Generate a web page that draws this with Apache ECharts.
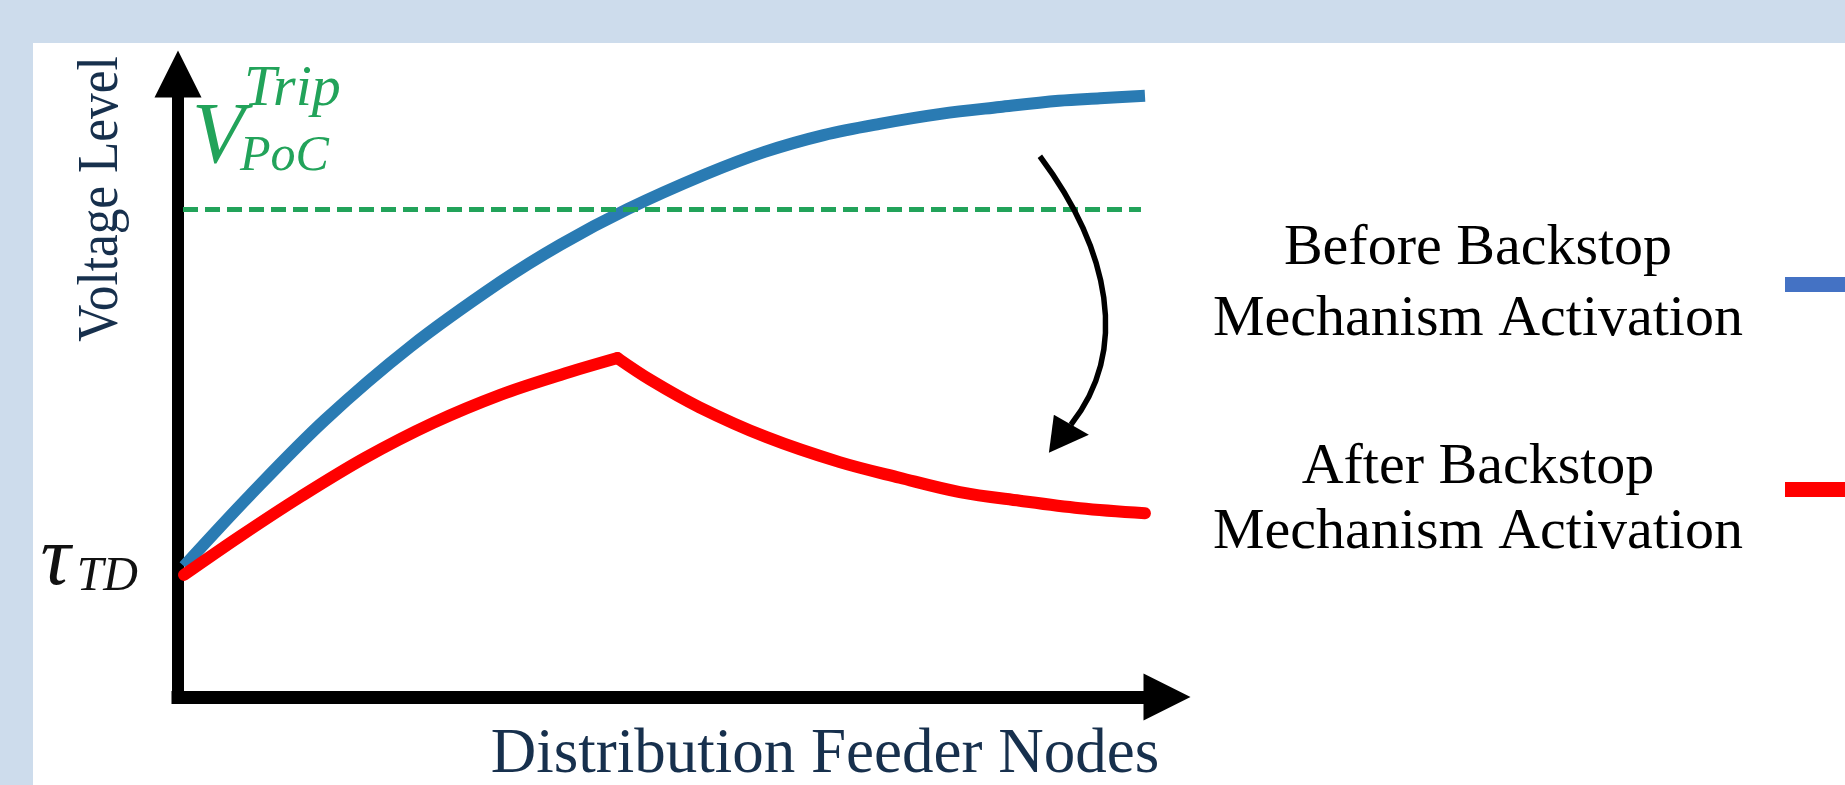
<!DOCTYPE html>
<html>
<head>
<meta charset="utf-8">
<style>
html,body{margin:0;padding:0;background:#cddcec;}
#c{width:1845px;height:785px;}
</style>
<script src="https://cdn.jsdelivr.net/npm/echarts@6/dist/echarts.min.js"></script>
</head>
<body>
<div id="c"></div>
<script>
// ---- data (x: position along feeder, y: voltage level 0-100) ----
const legendLines = [['Before Backstop', 'Mechanism Activation'], ['After Backstop', 'Mechanism Activation']];
const seriesNames = legendLines.map(l => l.join(' '));
const beforeX = [0.6, 7.2, 14.7, 23.2, 32.2, 38.2, 44.9, 52.7, 58.6, 64.5, 70.1, 76.2, 82.1, 88.0, 92.1, 96.6];
const beforeY = [21.0, 32.4, 44.5, 56.2, 66.6, 72.6, 78.3, 83.9, 87.5, 90.2, 92.0, 93.6, 94.7, 95.7, 96.1, 96.5];
// after activation: rising part up to the curtailment point, then falling part
const afterRiseX = [0.6, 6.2, 12.2, 18.7, 25.5, 32.2, 38.2, 43.9];
const afterRiseY = [19.6, 25.8, 32.1, 38.4, 44.0, 48.5, 51.7, 54.4];
const afterFallX = [43.9, 47.2, 52.1, 58.8, 66.1, 72.1, 78.1, 84.1, 90.1, 96.6];
const afterFallY = [54.4, 50.9, 46.5, 41.7, 37.7, 35.2, 32.9, 31.5, 30.3, 29.5];
const tripLevel = [78.3];
const tripSpan = [0.5, 96.2];
const yTickValues = [19.6];
const yTickLabels = ['{t|τ}{s|TD}'];
const axisNames = ['Distribution Feeder Nodes', 'Voltage Level'];
const arrowFrom = [86.1, 86.8];
const arrowTo = [87.0, 39.2];

const zip = (xs, ys) => xs.map((x, i) => [x, ys[i]]);
const SERIF = "'Liberation Serif', 'Times New Roman', serif";
const NAVY = '#17304d';
const GREEN = '#22a35a';
const BLUE = '#2a7bb3';
const RED = '#ff0000';

const chart = echarts.init(document.getElementById('c'), null, {renderer: 'canvas'});

const legendRichBase = {fontFamily: SERIF, fontSize: 58, lineHeight: 71, width: 604, align: 'center', color: '#000'};

const option = {
  animation: false,
  backgroundColor: '#cddcec',
  grid: {left: 178, right: 678, top: 74, bottom: 88, containLabel: false, outerBoundsMode: 'none'},
  xAxis: {
    type: 'value', min: 0, max: 98.8,
    axisLine: {show: true, onZero: false, symbol: ['none', 'triangle'], symbolSize: [47, 47],
      lineStyle: {color: '#000', width: 13, cap: 'square'}},
    axisTick: {show: false}, axisLabel: {show: false}, splitLine: {show: false},
    name: axisNames[0], nameLocation: 'middle', nameGap: 27,
    nameTextStyle: {fontFamily: SERIF, fontSize: 63, lineHeight: 63, color: NAVY, padding: [0, 0, 0, 305]}
  },
  yAxis: {
    type: 'value', min: 0, max: 100,
    axisLine: {show: true, onZero: false, symbol: ['none', 'triangle'], symbolSize: [47, 47],
      lineStyle: {color: '#000', width: 12, cap: 'square'}},
    axisTick: {show: false}, splitLine: {show: false},
    axisLabel: {
      show: true, customValues: yTickValues, margin: 40,
      formatter: v => {
        const i = yTickValues.findIndex(t => Math.abs(t - v) < 1e-6);
        return i < 0 ? '' : yTickLabels[i];
      },
      rich: {
        t: {fontFamily: SERIF, fontStyle: 'italic', fontSize: 84, lineHeight: 110, color: '#111', verticalAlign: 'top', padding: [0, 6, 28, 0]},
        s: {fontFamily: SERIF, fontStyle: 'italic', fontSize: 48, lineHeight: 81, color: '#111', verticalAlign: 'top', padding: [33, 0, 0, 0]}
      }
    }
  },
  legend: {
    orient: 'vertical', left: 1176, top: 220, padding: 0, itemGap: 62, align: 'right',
    icon: 'rect', itemWidth: 80, itemHeight: 15, selectedMode: false,
    data: [
      {name: seriesNames[0], itemStyle: {color: '#4472c4'}},
      {name: seriesNames[1], itemStyle: {color: RED}}
    ],
    formatter: name => {
      const i = seriesNames.indexOf(name);
      const styles = i === 1 ? ['b', 'c'] : ['a', 'a'];
      return legendLines[i].map((s, j) => '{' + styles[j] + '|' + s + '}').join('\n');
    },
    textStyle: {
      fontFamily: SERIF, fontSize: 58, color: '#000',
      rich: {
        a: legendRichBase,
        b: Object.assign({}, legendRichBase, {padding: [28, 0, 0, 0]}),
        c: Object.assign({}, legendRichBase, {padding: [16, 0, 0, 0]})
      }
    }
  },
  series: [
    {
      name: seriesNames[0], type: 'line', data: zip(beforeX, beforeY),
      smooth: 0.35, showSymbol: false, symbol: 'none',
      lineStyle: {color: BLUE, width: 12, join: 'round'},
      itemStyle: {color: BLUE},
      emphasis: {disabled: true},
      markLine: {
        silent: true, symbol: ['none', 'none'], label: {show: false},
        lineStyle: {color: GREEN, width: 5, type: [15, 7]},
        emphasis: {disabled: true},
        data: [[{coord: [tripSpan[0], tripLevel[0]]}, {coord: [tripSpan[1], tripLevel[0]]}]]
      }
    },
    {
      name: seriesNames[1], type: 'line', data: zip(afterRiseX, afterRiseY),
      smooth: 0.35, showSymbol: false, symbol: 'none',
      lineStyle: {color: RED, width: 12, join: 'round', cap: 'round'},
      itemStyle: {color: RED},
      emphasis: {disabled: true}
    },
    {
      name: seriesNames[1], type: 'line', data: zip(afterFallX, afterFallY),
      smooth: 0.35, showSymbol: false, symbol: 'none',
      lineStyle: {color: RED, width: 12, join: 'round', cap: 'round'},
      itemStyle: {color: RED},
      emphasis: {disabled: true}
    }
  ]
};
chart.setOption(option);

// ---- annotations anchored to the axes ----
const px = p => chart.convertToPixel({gridIndex: 0}, p);
const [tx, ty] = px([0, tripLevel[0]]);
const a0 = px(arrowFrom);
const a1 = px(arrowTo);
const headBase = [a1[0] + 22, a1[1] - 28];

chart.setOption({
  graphic: {
    elements: [
      {type: 'rect', z: -100, silent: true, shape: {x: 33, y: 43, width: 1845 - 33, height: 785 - 43}, style: {fill: '#ffffff'}},
      {type: 'text', z: 10, silent: true, x: 102, y: 199, rotation: Math.PI / 2, scaleX: 0.9,
        style: {text: axisNames[1], fontFamily: SERIF, fontSize: 57, fill: NAVY, align: 'center', verticalAlign: 'middle'}},
      {type: 'text', z: 10, silent: true, x: tx + 14, y: ty - 70,
        style: {text: 'V', fontFamily: SERIF, fontStyle: 'italic', fontSize: 86, fill: GREEN, align: 'left', verticalAlign: 'middle'}},
      {type: 'text', z: 10, silent: true, x: tx + 66, y: ty - 119,
        style: {text: 'Trip', fontFamily: SERIF, fontStyle: 'italic', fontSize: 58, fill: GREEN, align: 'left', verticalAlign: 'middle'}},
      {type: 'text', z: 10, silent: true, x: tx + 62, y: ty - 52,
        style: {text: 'PoC', fontFamily: SERIF, fontStyle: 'italic', fontSize: 50, fill: GREEN, align: 'left', verticalAlign: 'middle'}},
      {type: 'bezierCurve', z: 10, silent: true,
        shape: {x1: a0[0], y1: a0[1], cpx1: a0[0] + 70, cpy1: a0[1] + 94, cpx2: headBase[0] + 59, cpy2: headBase[1] - 75, x2: headBase[0], y2: headBase[1]},
        style: {stroke: '#000', lineWidth: 5.5, fill: null}},
      {type: 'polygon', z: 10, silent: true,
        shape: {points: [[a1[0], a1[1]], [a1[0] + 5, a1[1] - 38], [a1[0] + 40, a1[1] - 18]]},
        style: {fill: '#000'}}
    ]
  }
});
</script>
</body>
</html>
